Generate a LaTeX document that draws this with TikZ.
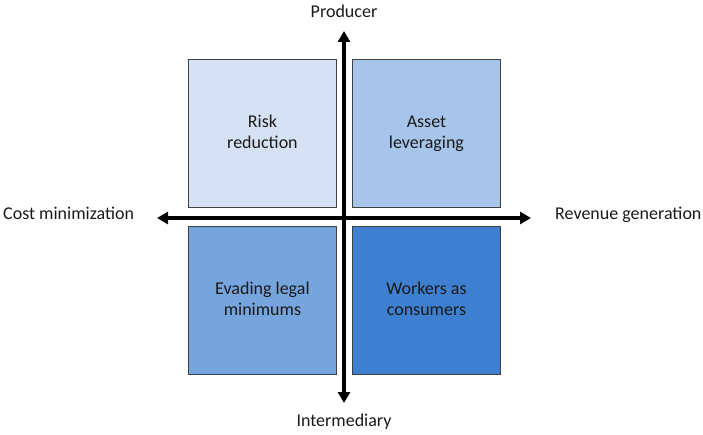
\documentclass[tikz,border=0pt]{standalone}
\usepackage{fontspec}
\setmainfont{Carlito}
\usetikzlibrary{arrows.meta}
\definecolor{cTL}{HTML}{D6E2F3}
\definecolor{cTR}{HTML}{A7C4EA}
\definecolor{cBL}{HTML}{76A5DD}
\definecolor{cBR}{HTML}{3E7FCF}
\definecolor{txt}{HTML}{1A1A1A}
\begin{document}
\begin{tikzpicture}[x=1pt,y=-1pt,
  quad/.style={draw=black!75, line width=0.9pt, minimum width=148pt, minimum height=148pt, anchor=north west, inner sep=0pt, align=center, font=\fontsize{18}{21}\selectfont, text=txt},
  lbl/.style={font=\fontsize{18}{21}\selectfont, text=txt, inner sep=0pt},
  axis/.style={line width=3.2pt, -{Triangle[length=11pt,width=12pt]}}]
\useasboundingbox (0,0) rectangle (703,435);
\node[quad, fill=cTL] (tl) at (188,59) {\strut Risk\\\strut reduction};
\node[quad, fill=cTR] (tr) at (352,59) {\strut Asset\\\strut leveraging};
\node[quad, fill=cBL] (bl) at (188,226) {\strut Evading legal\\\strut minimums};
\node[quad, fill=cBR] (br) at (352,226) {\strut Workers as\\\strut consumers};
\coordinate (c) at (344,218);
\coordinate (top) at (344,31);
\coordinate (bot) at (344,403);
\coordinate (left) at (157,218);
\coordinate (right) at (531,218);
\draw[axis] (c) -- (top);
\draw[axis] (c) -- (bot);
\draw[axis] (c) -- (left);
\draw[axis] (c) -- (right);
\node[lbl] (prod) at (344,11) {Producer};
\node[lbl] (inter) at (344,422) {Intermediary};
\node[lbl, anchor=west] (cost) at (3,213) {Cost minimization};
\node[lbl, anchor=west] (rev) at (555,215) {Revenue generation};
\end{tikzpicture}
\end{document}
